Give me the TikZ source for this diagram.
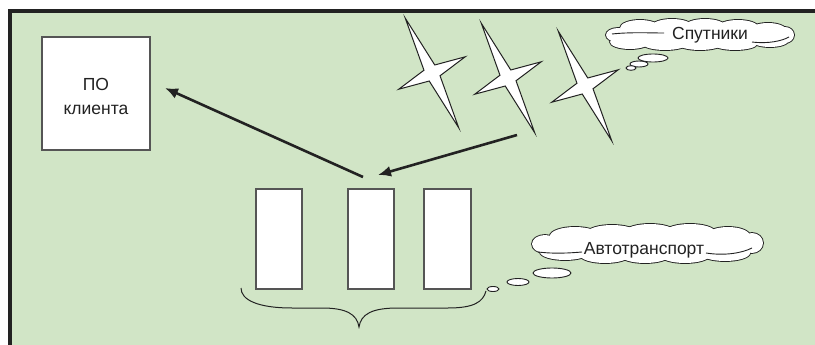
\documentclass[tikz,border=0pt]{standalone}
\usepackage{fontspec}
\setmainfont{Liberation Sans}
\usetikzlibrary{arrows.meta}
\definecolor{bggreen}{RGB}{209,229,198}
\definecolor{framecol}{RGB}{34,34,34}
\definecolor{edgecol}{RGB}{85,85,85}
\tikzset{
  whitebox/.style={draw=edgecol, line width=1.2pt, fill=white, inner sep=0pt},
  puffout/.style={draw=framecol, line width=1.8pt, fill=white},
  puffin/.style={fill=white},
  innerline/.style={draw=framecol, line width=0.9pt},
  bubble/.style={draw=framecol, line width=0.9pt, fill=white},
  lbl/.style={font=\fontsize{17.5pt}{20pt}\selectfont, text=framecol},
  bigarrow/.style={draw=framecol, line width=2.6pt, -{Latex[length=13pt,width=11pt]}},
  starsty/.style={draw=framecol, line width=1pt, fill=white, line join=miter},
  sparkle/.pic={\path[starsty] (0,-61) -- (6,-6) -- (37,0) -- (6,6) -- (0,61) -- (-6,6) -- (-37,0) -- (-6,-6) -- cycle;}
}
\newcommand{\cloudpuffs}[1]{%
  \foreach \cx/\cy/\rx/\ry in {#1} {\path[puffout] (\cx,\cy) ellipse [x radius=\rx, y radius=\ry];}
  \foreach \cx/\cy/\rx/\ry in {#1} {\path[puffin] (\cx,\cy) ellipse [x radius=\rx, y radius=\ry];}
}
\begin{document}
\begin{tikzpicture}[x=1pt,y=-1pt]
\useasboundingbox (0,0) rectangle (815,345);
\fill[framecol] (8,9) rectangle (815,345);
\fill[bggreen] (12,13) rectangle (815,345);

% client software box
\node[whitebox, minimum width=108pt, minimum height=113pt] (po) at (96,93.5) {};
\node[lbl, align=center, font=\fontsize{17.5pt}{24pt}\selectfont] (potext) at (96,96) {ПО\\клиента};

% vehicles
\node[whitebox, minimum width=46pt, minimum height=100pt] (r1) at (279,239) {};
\node[whitebox, minimum width=46pt, minimum height=100pt] (r2) at (371,239) {};
\node[whitebox, minimum width=47pt, minimum height=100pt] (r3) at (447.5,239) {};

% brace under vehicles
\draw[draw=framecol, line width=1pt] (241,288) .. controls (241,300) and (258,308) .. (292,308) -- (322,308) .. controls (346,308) and (357,314) .. (359,327) .. controls (361,314) and (372,308) .. (398,308) -- (448,308) .. controls (474,308) and (483,302) .. (486,291);

% satellites
\pic[rotate=26] at (432,73) {sparkle};
\pic[rotate=26] at (508,78) {sparkle};
\pic[rotate=26] at (585,86) {sparkle};

% cloud: satellites
\cloudpuffs{700/35/80/11, 640/28/20/8, 672/26/20/7, 705/26/20/7, 738/27/20/7, 768/30/18/7,
  630/42/20/7, 665/44/22/6, 700/44/22/6, 735/44/22/6, 770/41/18/6, 618/35/12/7, 785/35/9/8}
\draw[innerline] (612,34) .. controls (630,32) and (650,33) .. (664,33);
\draw[innerline] (752,42) .. controls (768,44) and (782,41) .. (789,37);
\node[lbl] (c1t) at (710,35) {Спутники};
\draw[bubble] (653,58) ellipse [x radius=15, y radius=4];
\draw[bubble] (639,64) ellipse [x radius=9, y radius=3];
\draw[bubble] (631,68) ellipse [x radius=5, y radius=2.3];

% cloud: vehicles
\cloudpuffs{647/244/100/14, 575/236/25/9, 612/233/25/8, 650/232/25/8, 690/232/25/8, 728/236/22/9,
  565/252/25/8, 605/255/25/8, 645/255/25/8, 685/255/25/8, 725/253/25/8, 545/244/13/9, 752/243/11/10}
\draw[innerline] (538,252) .. controls (555,254) and (570,253) .. (582,252);
\draw[innerline] (706,253) .. controls (725,256) and (742,253) .. (752,248);
\node[lbl] (c2t) at (644,250) {Автотранспорт};
\draw[bubble] (552,273) ellipse [x radius=19, y radius=5];
\draw[bubble] (518,282) ellipse [x radius=11, y radius=3.5];
\draw[bubble] (493,289) ellipse [x radius=6, y radius=2.5];

% arrows
\coordinate (a1s) at (363,177);
\coordinate (a1e) at (165,88);
\coordinate (a2s) at (517,135);
\coordinate (a2e) at (378,175);
\draw[bigarrow] (a1s) -- (a1e);
\draw[bigarrow] (a2s) -- (a2e);
\end{tikzpicture}
\end{document}
